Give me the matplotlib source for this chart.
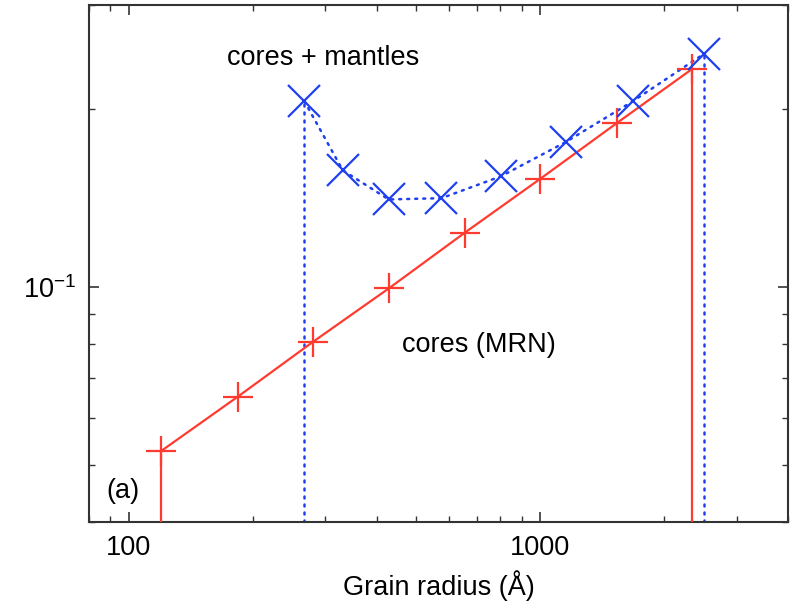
import numpy as np
import matplotlib
matplotlib.use("Agg")
import matplotlib.pyplot as plt
from matplotlib.ticker import NullFormatter, LogLocator

plt.rcParams['font.family'] = ['Liberation Sans', 'DejaVu Sans']
plt.rcParams['mathtext.fontset'] = 'custom'
plt.rcParams['mathtext.rm'] = 'Liberation Sans'
plt.rcParams['mathtext.it'] = 'Liberation Sans:italic'

# cores (MRN) - red pluses
core_r = [120, 184, 280, 429, 655, 1000, 1532, 2339]
core_y = [0.0528, 0.0652, 0.0807, 0.0995, 0.1235, 0.1524, 0.1892, 0.2338]

# cores + mantles - blue crosses
mant_r = [267, 331, 428, 575, 801, 1152, 1679, 2497]
mant_y = [0.2062, 0.1575, 0.1406, 0.1413, 0.1538, 0.1758, 0.2062, 0.2479]

xticks = [100, 1000]
xticklabels = ['100', '1000']
yticks = [0.1]
yticklabels = [r'$\mathregular{10^{-1}}$']

red = '#ff3b2f'
blue = '#2040f0'
fs = 19.5

fig = plt.figure(figsize=(7.92, 6.07), dpi=100)
ax = fig.add_axes([0.1124, 0.140, 0.8826, 0.8518])
ax.set_xscale('log')
ax.set_yscale('log')
ax.set_xlim(80, 4000)
ax.set_ylim(0.04, 0.3)
ymin = ax.get_ylim()[0]

# red curve, closed down to the bottom at both ends
ax.plot(core_r, core_y, color=red, lw=1.6, marker='+', ms=22, mew=1.6, zorder=3)
ax.vlines([core_r[0], core_r[-1]], ymin, [core_y[0], core_y[-1]], color=red, lw=1.6, zorder=3)

# blue dotted curve
ax.plot(mant_r, mant_y, color=blue, lw=1.8, ls=(0, (0.8, 2.4)), dash_capstyle='round', zorder=2)
ax.plot(mant_r, mant_y, ls='none', color=blue, marker='x', ms=23, mew=1.6, zorder=4)
ax.vlines([mant_r[0], mant_r[-1]], ymin, [mant_y[0], mant_y[-1]], color=blue, lw=1.8,
          linestyles=[(0, (0.8, 2.4))], capstyle='round', zorder=2)

ax.text(297, 0.2444, 'cores + mantles', fontsize=fs, ha='center', va='center')
ax.text(710, 0.0797, 'cores (MRN)', fontsize=fs, ha='center', va='center')
ax.text(0.025, 0.06, '(a)', fontsize=fs, ha='left', va='center', transform=ax.transAxes)

ax.set_xticks(xticks, labels=xticklabels)
ax.set_yticks(yticks, labels=yticklabels)
ax.xaxis.set_minor_locator(LogLocator(base=10, subs=np.arange(2, 10)))
ax.yaxis.set_minor_locator(LogLocator(base=10, subs=np.arange(2, 10)))
ax.xaxis.set_minor_formatter(NullFormatter())
ax.yaxis.set_minor_formatter(NullFormatter())
ax.tick_params(which='both', direction='in', top=True, right=True, labelsize=fs, color='#333333')
ax.tick_params(which='major', length=7, width=1.2, pad=9)
ax.tick_params(which='minor', length=4, width=1.0)
for s in ax.spines.values():
    s.set_linewidth(1.5)
    s.set_color('#333333')

ax.set_xlabel('Grain radius (Å)', fontsize=fs, labelpad=7)

fig.savefig('out.png', dpi=100)
